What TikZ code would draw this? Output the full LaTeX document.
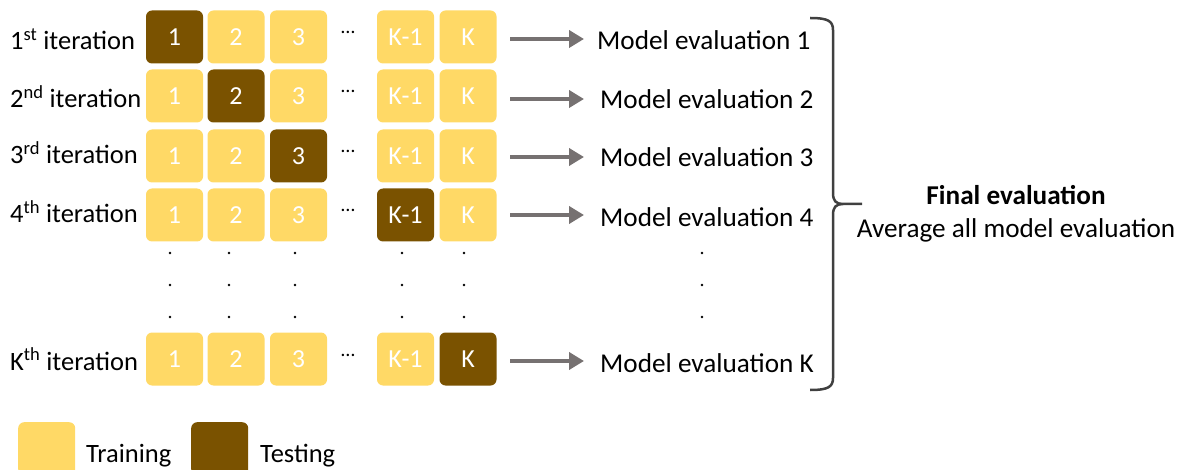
\documentclass[tikz,border=0pt]{standalone}
\usepackage{fontspec}
\setmainfont{Carlito}
\usetikzlibrary{arrows.meta}
\definecolor{train}{HTML}{FFD966}
\definecolor{test}{HTML}{7A5200}
\definecolor{arrowgray}{HTML}{767171}
\definecolor{bracegray}{HTML}{404040}
\tikzset{
  fold/.style={rectangle, rounded corners=6pt, minimum width=57pt, minimum height=53pt, inner sep=0pt, text=white, font=\fontsize{26}{30}\selectfont},
  trainbox/.style={fold, fill=train},
  testbox/.style={fold, fill=test},
  lbl/.style={anchor=base west, inner sep=0pt, font=\fontsize{26.5}{30}\selectfont, text=black},
  evl/.style={anchor=base west, inner sep=0pt, font=\fontsize{27.2}{31}\selectfont, text=black},
  evalarrow/.style={arrowgray, line width=4.5pt, -{Triangle[length=15pt, width=17pt]}},
  hdots/.style={anchor=base, inner sep=0pt, font=\fontsize{20}{24}\selectfont},
  vdot/.style={fill=black},
}
\begin{document}
\begin{tikzpicture}[x=1pt, y=-1pt]
\useasboundingbox (0,0) rectangle (1182,470);
% row centres
\def\ra{37}\def\rb{96}\def\rc{156}\def\rd{215}\def\rk{359}
% Row 1
\node[lbl] (l1) at (10,50) {1\textsuperscript{st} iteration};
\node[testbox] (a1) at (174.5,\ra) {1};
\node[trainbox] (a2) at (236,\ra) {2};
\node[trainbox] (a3) at (298.5,\ra) {3};
\node[hdots] (ad) at (348,34) {…};
\node[trainbox] (a4) at (405.5,\ra) {K-1};
\node[trainbox] (a5) at (468,\ra) {K};
% Row 2
\node[lbl] (l2) at (10,108) {2\textsuperscript{nd} iteration};
\node[trainbox] (b1) at (174.5,\rb) {1};
\node[testbox] (b2) at (236,\rb) {2};
\node[trainbox] (b3) at (298.5,\rb) {3};
\node[hdots] (bd) at (348,93) {…};
\node[trainbox] (b4) at (405.5,\rb) {K-1};
\node[trainbox] (b5) at (468,\rb) {K};
% Row 3
\node[lbl] (l3) at (10,164) {3\textsuperscript{rd} iteration};
\node[trainbox] (c1) at (174.5,\rc) {1};
\node[trainbox] (c2) at (236,\rc) {2};
\node[testbox] (c3) at (298.5,\rc) {3};
\node[hdots] (cd) at (348,153) {…};
\node[trainbox] (c4) at (405.5,\rc) {K-1};
\node[trainbox] (c5) at (468,\rc) {K};
% Row 4
\node[lbl] (l4) at (10,223) {4\textsuperscript{th} iteration};
\node[trainbox] (d1) at (174.5,\rd) {1};
\node[trainbox] (d2) at (236,\rd) {2};
\node[trainbox] (d3) at (298.5,\rd) {3};
\node[hdots] (dd) at (348,212) {…};
\node[testbox] (d4) at (405.5,\rd) {K-1};
\node[trainbox] (d5) at (468,\rd) {K};
% Row K
\node[lbl] (lk) at (10,370) {K\textsuperscript{th} iteration};
\node[trainbox] (k1) at (174.5,\rk) {1};
\node[trainbox] (k2) at (236,\rk) {2};
\node[trainbox] (k3) at (298.5,\rk) {3};
\node[hdots] (kd) at (348,356) {…};
\node[trainbox] (k4) at (405.5,\rk) {K-1};
\node[testbox] (k5) at (468,\rk) {K};
% vertical dots
\foreach \x in {170,229,295,402,464,702}{
  \foreach \y in {253,285,317}{
    \fill[vdot] (\x,\y) circle (1.3pt);
  }
}
% evaluations
\node[evl] (e1) at (597,50) {Model evaluation 1};
\node[evl] (e2) at (600,109) {Model evaluation 2};
\node[evl] (e3) at (600,167) {Model evaluation 3};
\node[evl] (e4) at (600,226) {Model evaluation 4};
\node[evl] (ek) at (600,372) {Model evaluation K};
% arrow anchors
\coordinate (s1) at (510,39); \coordinate (t1) at (584,39);
\coordinate (s2) at (510,99); \coordinate (t2) at (584,99);
\coordinate (s3) at (510,157); \coordinate (t3) at (584,157);
\coordinate (s4) at (510,215); \coordinate (t4) at (584,215);
\coordinate (sk) at (510,361); \coordinate (tk) at (584,361);
\draw[evalarrow] (s1) -- (t1);
\draw[evalarrow] (s2) -- (t2);
\draw[evalarrow] (s3) -- (t3);
\draw[evalarrow] (s4) -- (t4);
\draw[evalarrow] (sk) -- (tk);
% brace
\coordinate (btop) at (810,18);
\coordinate (btip) at (862,204);
\coordinate (bbot) at (810,390);
\draw[bracegray, line width=2.5pt, line join=round]
  (btop) .. controls (828,18) and (833,21) .. (833,30)
  -- (833,193) .. controls (833,201) and (836,204) .. (843,204)
  -- (btip)
  (843,204) .. controls (836,204) and (833,207) .. (833,215)
  -- (833,378) .. controls (833,387) and (828,390) .. (bbot);
% final
\node[anchor=base, inner sep=0pt, font=\fontsize{27.2}{31}\selectfont\bfseries] (fin) at (1016,205) {Final evaluation};
\node[anchor=base, inner sep=0pt, font=\fontsize{27.2}{31}\selectfont] (avg) at (1016,238) {Average all model evaluation};
% legend
\node[trainbox, anchor=north west] (ltr) at (18,422) {};
\node[lbl] (ltrt) at (86,462) {Training};
\node[testbox, anchor=north west] (lte) at (191,422) {};
\node[lbl] (ltet) at (260,462) {Testing};
\end{tikzpicture}
\end{document}
